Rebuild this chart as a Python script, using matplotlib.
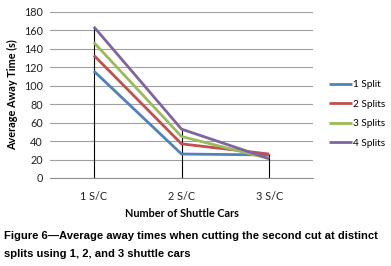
import matplotlib
matplotlib.use("Agg")
import matplotlib.pyplot as plt
import numpy as np

categories = ["1 S/C", "2 S/C", "3 S/C"]
series_names = ["1 Split", "2 Splits", "3 Splits", "4 Splits"]
split1 = [116, 26, 25]
split2 = [133, 37, 26]
split3 = [147, 45, 21]
split4 = [164, 53, 21]
colors = ["#4F81BD", "#C0504D", "#9BBB59", "#8064A2"]
yticks = [0, 20, 40, 60, 80, 100, 120, 140, 160, 180]

FONT = "Lato"
FS = 7.8

fig = plt.figure(figsize=(3.91, 2.66), dpi=100)
ax = fig.add_axes([50/391, 1 - 178/266, 263/391, 166/266])

x = np.arange(len(categories))
all_series = [split1, split2, split3, split4]
maxv = np.max(np.array(all_series), axis=0)
minv = np.zeros(len(categories))
ax.vlines(x, minv, maxv, colors="black", linewidth=0.8, zorder=2)
for name, vals, c in zip(series_names, all_series, colors):
    ax.plot(x, vals, color=c, linewidth=2.0, label=name, zorder=3, solid_capstyle="butt")

ax.set_xlim(-0.5, 2.5)
ax.set_ylim(0, 180)
ax.set_yticks(yticks)
ax.set_xticks(x)
ax.set_xticklabels(categories)
ax.grid(axis="y", color="#a0a0a0", linewidth=0.8)
ax.set_axisbelow(True)
for s in ["top", "right", "left"]:
    ax.spines[s].set_visible(False)
ax.spines["bottom"].set_color("#909090")
ax.tick_params(axis="both", length=0, labelsize=FS, colors="#222222", pad=5)
ax.tick_params(axis="x", pad=9)
for lab in ax.get_xticklabels() + ax.get_yticklabels():
    lab.set_fontfamily(FONT)
ax.set_xlabel("Number of Shuttle Cars", fontsize=FS, fontweight="bold", family=FONT, labelpad=5)
ax.set_ylabel("Average Away Time (s)", fontsize=FS, fontweight="bold", family=FONT, labelpad=4)

leg = ax.legend(loc="center left", bbox_to_anchor=(1.062, 0.385), frameon=False,
                prop={"family": FONT, "size": 7.2}, handlelength=2.3,
                handletextpad=0.1, labelspacing=1.05, borderaxespad=0, borderpad=0)

fig.text(4/391, 1 - 236/266, "Figure 6\u2014Average away times when cutting the second cut at distinct",
         fontsize=8.15, fontweight="bold", family="Liberation Sans", va="center", ha="left")
fig.text(4/391, 1 - 254/266, "splits using 1, 2, and 3 shuttle cars",
         fontsize=8.15, fontweight="bold", family="Liberation Sans", va="center", ha="left")

fig.savefig("out.png", dpi=100)
